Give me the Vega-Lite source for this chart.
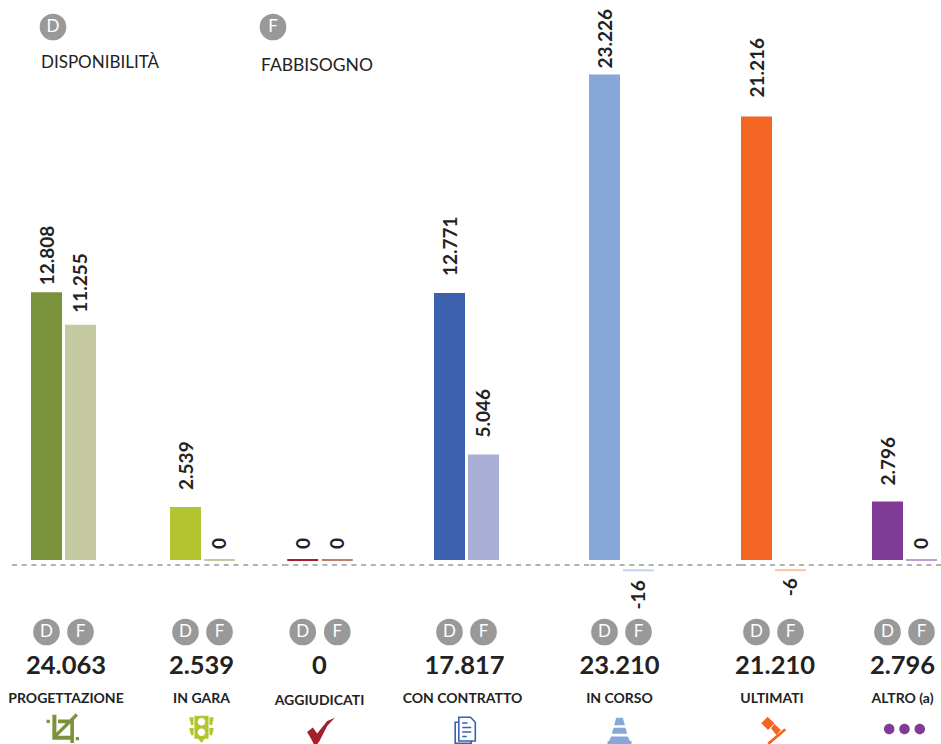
{
  "$schema": "https://vega.github.io/schema/vega-lite/v6.json",
  "background": "white",
  "padding": 0,
  "bounds": "flush",
  "spacing": 0,
  "resolve": {"scale": {"color": "independent"}},
  "config": {
    "view": {"stroke": null},
    "font": "Lato",
    "locale": {"number": {"decimal": ",", "thousands": ".", "grouping": [3], "currency": ["€", ""], "minus": "-"}}
  },
  "datasets": {
    "valori": [
      {"fase": "PROGETTAZIONE", "sigla": "D", "valore": 12808},
      {"fase": "PROGETTAZIONE", "sigla": "F", "valore": 11255},
      {"fase": "IN GARA", "sigla": "D", "valore": 2539},
      {"fase": "IN GARA", "sigla": "F", "valore": 0},
      {"fase": "AGGIUDICATI", "sigla": "D", "valore": 0},
      {"fase": "AGGIUDICATI", "sigla": "F", "valore": 0},
      {"fase": "CON CONTRATTO", "sigla": "D", "valore": 12771},
      {"fase": "CON CONTRATTO", "sigla": "F", "valore": 5046},
      {"fase": "IN CORSO", "sigla": "D", "valore": 23226},
      {"fase": "IN CORSO", "sigla": "F", "valore": -16},
      {"fase": "ULTIMATI", "sigla": "D", "valore": 21216},
      {"fase": "ULTIMATI", "sigla": "F", "valore": -6},
      {"fase": "ALTRO (a)", "sigla": "D", "valore": 2796},
      {"fase": "ALTRO (a)", "sigla": "F", "valore": 0}
    ],
    "totali": [
      {"fase": "PROGETTAZIONE", "totale": 24063},
      {"fase": "IN GARA", "totale": 2539},
      {"fase": "AGGIUDICATI", "totale": 0},
      {"fase": "CON CONTRATTO", "totale": 17817},
      {"fase": "IN CORSO", "totale": 23210},
      {"fase": "ULTIMATI", "totale": 21210},
      {"fase": "ALTRO (a)", "totale": 2796}
    ],
    "legenda": [
      {"sigla": "D", "voce": "DISPONIBILITÀ"},
      {"sigla": "F", "voce": "FABBISOGNO"}
    ]
  },
  "hconcat": [
    {
      "width": 170, "height": 744,
      "resolve": {"scale": {"x": "independent", "y": "independent"}},
      "layer": [
        {
          "data": {"name": "legenda"},
          "encoding": {
            "x": {"field": "sigla", "type": "nominal", "axis": null, "scale": {"type": "point", "domain": ["D", "F"], "range": [53, 273], "padding": 0}}
          },
          "layer": [
            {
              "mark": {"type": "point", "filled": true, "size": 710, "color": "#999999", "opacity": 1},
              "encoding": {"y": {"datum": "cerchio", "type": "nominal", "axis": null, "scale": {"type": "point", "domain": ["cerchio", "voce"], "range": [27, 61], "padding": 0}}}
            },
            {
              "mark": {"type": "text", "fontSize": 17, "color": "white", "baseline": "middle"},
              "encoding": {
                "y": {"datum": "cerchio", "type": "nominal", "axis": null, "scale": {"type": "point", "domain": ["cerchio", "voce"], "range": [27, 61], "padding": 0}},
                "text": {"field": "sigla"}
              }
            },
            {
              "transform": [{"filter": "datum.sigla === 'D'"}],
              "mark": {"type": "text", "fontSize": 17, "color": "#222222", "align": "left", "baseline": "middle", "dx": -12, "dy": 1.5},
              "encoding": {
                "y": {"datum": "voce", "type": "nominal", "axis": null, "scale": {"type": "point", "domain": ["cerchio", "voce"], "range": [27, 61], "padding": 0}},
                "text": {"field": "voce"}
              }
            },
            {
              "transform": [{"filter": "datum.sigla === 'F'"}],
              "mark": {"type": "text", "fontSize": 17.5, "color": "#222222", "align": "left", "baseline": "middle", "dx": -12, "dy": 4.5},
              "encoding": {
                "y": {"datum": "voce", "type": "nominal", "axis": null, "scale": {"type": "point", "domain": ["cerchio", "voce"], "range": [27, 61], "padding": 0}},
                "text": {"field": "voce"}
              }
            }
          ]
        },
        {
          "data": {"name": "totali"},
          "transform": [{"filter": "datum.fase === 'PROGETTAZIONE'"}],
          "mark": {"type": "rule", "color": "#666666", "strokeWidth": 1, "strokeDash": [5, 4.7], "yOffset": 5},
          "encoding": {
            "x": {"datum": 0, "type": "quantitative", "axis": null, "scale": {"domain": [0, 1], "range": [12, 170]}},
            "x2": {"datum": 1},
            "y": {"datum": 0, "type": "quantitative", "axis": null, "scale": {"domain": [-8804, 26794], "nice": false, "zero": false}}
          }
        },
        {
          "data": {"name": "valori"},
          "transform": [{"filter": "datum.fase === 'PROGETTAZIONE'"}],
          "encoding": {
            "x": {"field": "sigla", "type": "nominal", "axis": null, "scale": {"type": "band", "domain": ["D", "F"], "range": [31, 96], "paddingInner": 0.0882, "paddingOuter": 0}},
            "y": {"field": "valore", "type": "quantitative", "axis": null, "scale": {"domain": [-8804, 26794], "nice": false, "zero": false}}
          },
          "layer": [
            {
              "mark": {"type": "bar"},
              "encoding": {"color": {"field": "sigla", "legend": null, "scale": {"domain": ["D", "F"], "range": ["#7a933a", "#c5c9a1"]}}}
            },
            {
              "transform": [{"filter": "datum.sigla === 'D'"}],
              "mark": {"type": "text", "angle": 270, "align": "left", "baseline": "middle", "dx": 7, "dy": 1, "fontSize": 19, "fontWeight": "bold", "color": "#222222"},
              "encoding": {"text": {"field": "valore", "type": "quantitative", "format": ",d"}}
            },
            {
              "transform": [{"filter": "datum.sigla === 'F'"}],
              "mark": {"type": "text", "angle": 270, "align": "left", "baseline": "middle", "dx": 12, "dy": 1, "fontSize": 19, "fontWeight": "bold", "color": "#222222"},
              "encoding": {"text": {"field": "valore", "type": "quantitative", "format": ",d"}}
            }
          ]
        },
        {
          "data": {"name": "valori"},
          "transform": [{"filter": "datum.fase === 'PROGETTAZIONE'"}],
          "encoding": {
            "x": {"field": "sigla", "type": "nominal", "axis": null, "scale": {"type": "band", "domain": ["D", "F"], "range": [31, 96], "paddingInner": 0.0882, "paddingOuter": 0}},
            "y": {"datum": "sigle", "type": "nominal", "axis": null, "scale": {"type": "point", "domain": ["sigle", "totale", "fase", "icona"], "range": [632, 731], "padding": 0}}
          },
          "layer": [
            {"mark": {"type": "point", "filled": true, "size": 710, "color": "#999999", "opacity": 1}},
            {"mark": {"type": "text", "fontSize": 17, "color": "white", "baseline": "middle"}, "encoding": {"text": {"field": "sigla"}}}
          ]
        },
        {
          "data": {"name": "totali"},
          "transform": [{"filter": "datum.fase === 'PROGETTAZIONE'"}],
          "encoding": {
            "x": {"field": "fase", "type": "nominal", "axis": null, "scale": {"type": "point", "range": [31, 101]}}
          },
          "layer": [
            {
              "mark": {"type": "text", "fontSize": 25.5, "fontWeight": "bold", "color": "#222222", "baseline": "middle", "dy": 1},
              "encoding": {
                "y": {"datum": "totale", "type": "nominal", "axis": null, "scale": {"type": "point", "domain": ["sigle", "totale", "fase", "icona"], "range": [632, 731], "padding": 0}},
                "text": {"field": "totale", "type": "quantitative", "format": ",d"}
              }
            },
            {
              "mark": {"type": "text", "fontSize": 14, "fontWeight": "bold", "color": "#222222", "baseline": "middle", "dy": 1},
              "encoding": {
                "y": {"datum": "fase", "type": "nominal", "axis": null, "scale": {"type": "point", "domain": ["sigle", "totale", "fase", "icona"], "range": [632, 731], "padding": 0}},
                "text": {"field": "fase"}
              }
            },
            {
              "mark": {"type": "point", "filled": true, "opacity": 1, "color": "#7a933a", "size": 900, "yOffset": -3, "xOffset": -3,
                "shape": "M -0.71 -0.89 L -0.44 -0.89 L -0.44 0.51 L 0.73 0.51 L 0.73 0.78 L -0.71 0.78 Z M -0.33 -0.56 L 0.73 -0.56 L 0.73 1 L 0.49 1 L 0.49 -0.31 L -0.33 -0.31 Z M 0.85 -0.98 L 1 -0.82 L -0.5 0.68 L -0.65 0.52 Z M -1.1 -0.55 L -0.88 -0.55 L -0.88 -0.33 L -1.1 -0.33 Z M 0.85 0.6 L 1.07 0.6 L 1.07 0.82 L 0.85 0.82 Z"},
              "encoding": {
                "y": {"datum": "icona", "type": "nominal", "axis": null, "scale": {"type": "point", "domain": ["sigle", "totale", "fase", "icona"], "range": [632, 731], "padding": 0}}
              }
            }
          ]
        }
      ]
    },
    {
      "width": 117, "height": 744,
      "resolve": {"scale": {"x": "independent", "y": "independent"}},
      "layer": [
        {
          "data": {"name": "totali"},
          "transform": [{"filter": "datum.fase === 'IN GARA'"}],
          "mark": {"type": "rule", "color": "#666666", "strokeWidth": 1, "strokeDash": [5, 4.7], "yOffset": 5},
          "encoding": {
            "y": {"datum": 0, "type": "quantitative", "axis": null, "scale": {"domain": [-8804, 26794], "nice": false, "zero": false}}
          }
        },
        {
          "data": {"name": "valori"},
          "transform": [{"filter": "datum.fase === 'IN GARA'"}],
          "encoding": {
            "x": {"field": "sigla", "type": "nominal", "axis": null, "scale": {"type": "band", "domain": ["D", "F"], "range": [0, 65], "paddingInner": 0.0882, "paddingOuter": 0}},
            "y": {"field": "valore", "type": "quantitative", "axis": null, "scale": {"domain": [-8804, 26794], "nice": false, "zero": false}},
            "color": {"field": "sigla", "legend": null, "scale": {"domain": ["D", "F"], "range": ["#b2c530", "#c5c9a1"]}}
          },
          "layer": [
            {"transform": [{"filter": "datum.valore > 0"}], "mark": {"type": "bar"}},
            {"transform": [{"filter": "datum.valore === 0"}], "mark": {"type": "tick", "size": 31, "thickness": 2, "opacity": 1}},
            {
              "transform": [{"filter": "datum.sigla === 'D'"}],
              "mark": {"type": "text", "angle": 270, "align": "left", "baseline": "middle", "dx": 17, "dy": 1, "fontSize": 19, "fontWeight": "bold", "color": "#222222"},
              "encoding": {"color": {"value": "#222222"}, "text": {"field": "valore", "type": "quantitative", "format": ",d"}}
            },
            {
              "transform": [{"filter": "datum.sigla === 'F'"}],
              "mark": {"type": "text", "angle": 270, "align": "left", "baseline": "middle", "dx": 11, "dy": 1, "fontSize": 19, "fontWeight": "bold", "color": "#222222"},
              "encoding": {"color": {"value": "#222222"}, "text": {"field": "valore", "type": "quantitative", "format": ",d"}}
            }
          ]
        },
        {
          "data": {"name": "valori"},
          "transform": [{"filter": "datum.fase === 'IN GARA'"}],
          "encoding": {
            "x": {"field": "sigla", "type": "nominal", "axis": null, "scale": {"type": "band", "domain": ["D", "F"], "range": [0, 65], "paddingInner": 0.0882, "paddingOuter": 0}},
            "y": {"datum": "sigle", "type": "nominal", "axis": null, "scale": {"type": "point", "domain": ["sigle", "totale", "fase", "icona"], "range": [632, 731], "padding": 0}}
          },
          "layer": [
            {"mark": {"type": "point", "filled": true, "size": 710, "color": "#999999", "opacity": 1}},
            {"mark": {"type": "text", "fontSize": 17, "color": "white", "baseline": "middle"}, "encoding": {"text": {"field": "sigla"}}}
          ]
        },
        {
          "data": {"name": "totali"},
          "transform": [{"filter": "datum.fase === 'IN GARA'"}],
          "encoding": {
            "x": {"field": "fase", "type": "nominal", "axis": null, "scale": {"type": "point", "range": [0, 63]}}
          },
          "layer": [
            {
              "mark": {"type": "text", "fontSize": 25.5, "fontWeight": "bold", "color": "#222222", "baseline": "middle", "dy": 1},
              "encoding": {
                "y": {"datum": "totale", "type": "nominal", "axis": null, "scale": {"type": "point", "domain": ["sigle", "totale", "fase", "icona"], "range": [632, 731], "padding": 0}},
                "text": {"field": "totale", "type": "quantitative", "format": ",d"}
              }
            },
            {
              "mark": {"type": "text", "fontSize": 14, "fontWeight": "bold", "color": "#222222", "baseline": "middle", "dy": 1},
              "encoding": {
                "y": {"datum": "fase", "type": "nominal", "axis": null, "scale": {"type": "point", "domain": ["sigle", "totale", "fase", "icona"], "range": [632, 731], "padding": 0}},
                "text": {"field": "fase"}
              }
            },
            {
              "mark": {"type": "point", "filled": true, "opacity": 1, "color": "#b2c530", "size": 900, "yOffset": -3,
                "shape": "M -0.47 -0.82 L 0.47 -0.82 L 0.47 0.72 L 0.22 0.72 L 0 1 L -0.22 0.72 L -0.47 0.72 Z M -0.25 -0.42 A 0.25 0.25 0 1 0 0.25 -0.42 A 0.25 0.25 0 1 0 -0.25 -0.42 Z M -0.25 0.28 A 0.25 0.25 0 1 0 0.25 0.28 A 0.25 0.25 0 1 0 -0.25 0.28 Z M -0.82 -0.72 L -0.53 -0.72 L -0.53 -0.2 L -0.7 -0.2 Z M 0.82 -0.72 L 0.7 -0.2 L 0.53 -0.2 L 0.53 -0.72 Z M -0.82 0 L -0.53 0 L -0.53 0.48 L -0.7 0.48 Z M 0.82 0 L 0.7 0.48 L 0.53 0.48 L 0.53 0 Z"},
              "encoding": {
                "y": {"datum": "icona", "type": "nominal", "axis": null, "scale": {"type": "point", "domain": ["sigle", "totale", "fase", "icona"], "range": [632, 731], "padding": 0}}
              }
            }
          ]
        }
      ]
    },
    {
      "width": 147, "height": 744,
      "resolve": {"scale": {"x": "independent", "y": "independent"}},
      "layer": [
        {
          "data": {"name": "totali"},
          "transform": [{"filter": "datum.fase === 'AGGIUDICATI'"}],
          "mark": {"type": "rule", "color": "#666666", "strokeWidth": 1, "strokeDash": [5, 4.7], "yOffset": 5},
          "encoding": {
            "y": {"datum": 0, "type": "quantitative", "axis": null, "scale": {"domain": [-8804, 26794], "nice": false, "zero": false}}
          }
        },
        {
          "data": {"name": "valori"},
          "transform": [{"filter": "datum.fase === 'AGGIUDICATI'"}],
          "encoding": {
            "x": {"field": "sigla", "type": "nominal", "axis": null, "scale": {"type": "band", "domain": ["D", "F"], "range": [0, 66], "paddingInner": 0.0882, "paddingOuter": 0}},
            "y": {"field": "valore", "type": "quantitative", "axis": null, "scale": {"domain": [-8804, 26794], "nice": false, "zero": false}}
          },
          "layer": [
            {
              "mark": {"type": "tick", "size": 31, "thickness": 2, "opacity": 1},
              "encoding": {"color": {"field": "sigla", "legend": null, "scale": {"domain": ["D", "F"], "range": ["#a3212b", "#c47a6a"]}}}
            },
            {
              "mark": {"type": "text", "angle": 270, "align": "left", "baseline": "middle", "dx": 11, "dy": 1, "fontSize": 19, "fontWeight": "bold", "color": "#222222"},
              "encoding": {"text": {"field": "valore", "type": "quantitative", "format": ",d"}}
            }
          ]
        },
        {
          "data": {"name": "valori"},
          "transform": [{"filter": "datum.fase === 'AGGIUDICATI'"}],
          "encoding": {
            "x": {"field": "sigla", "type": "nominal", "axis": null, "scale": {"type": "band", "domain": ["D", "F"], "range": [0, 66], "paddingInner": 0.0882, "paddingOuter": 0}},
            "y": {"datum": "sigle", "type": "nominal", "axis": null, "scale": {"type": "point", "domain": ["sigle", "totale", "fase", "icona"], "range": [632, 731], "padding": 0}}
          },
          "layer": [
            {"mark": {"type": "point", "filled": true, "size": 710, "color": "#999999", "opacity": 1}},
            {"mark": {"type": "text", "fontSize": 17, "color": "white", "baseline": "middle"}, "encoding": {"text": {"field": "sigla"}}}
          ]
        },
        {
          "data": {"name": "totali"},
          "transform": [{"filter": "datum.fase === 'AGGIUDICATI'"}],
          "encoding": {
            "x": {"field": "fase", "type": "nominal", "axis": null, "scale": {"type": "point", "range": [0, 65]}}
          },
          "layer": [
            {
              "mark": {"type": "text", "fontSize": 25.5, "fontWeight": "bold", "color": "#222222", "baseline": "middle", "dy": 1},
              "encoding": {
                "y": {"datum": "totale", "type": "nominal", "axis": null, "scale": {"type": "point", "domain": ["sigle", "totale", "fase", "icona"], "range": [632, 731], "padding": 0}},
                "text": {"field": "totale", "type": "quantitative", "format": ",d"}
              }
            },
            {
              "mark": {"type": "text", "fontSize": 14, "fontWeight": "bold", "color": "#222222", "baseline": "middle", "dy": 2.5},
              "encoding": {
                "y": {"datum": "fase", "type": "nominal", "axis": null, "scale": {"type": "point", "domain": ["sigle", "totale", "fase", "icona"], "range": [632, 731], "padding": 0}},
                "text": {"field": "fase"}
              }
            },
            {
              "mark": {"type": "point", "filled": true, "opacity": 1, "color": "#a3212b", "size": 900, "xOffset": 2,
                "shape": "M -0.96 0.07 L -0.58 -0.24 L -0.29 0.16 L 0.38 -0.67 L 0.89 -0.89 L 0.38 -0.33 L -0.13 0.67 L -0.29 0.89 L -0.51 0.89 L -0.67 0.56 Z"},
              "encoding": {
                "y": {"datum": "icona", "type": "nominal", "axis": null, "scale": {"type": "point", "domain": ["sigle", "totale", "fase", "icona"], "range": [632, 731], "padding": 0}}
              }
            }
          ]
        }
      ]
    },
    {
      "width": 155, "height": 744,
      "resolve": {"scale": {"x": "independent", "y": "independent"}},
      "layer": [
        {
          "data": {"name": "totali"},
          "transform": [{"filter": "datum.fase === 'CON CONTRATTO'"}],
          "mark": {"type": "rule", "color": "#666666", "strokeWidth": 1, "strokeDash": [5, 4.7], "yOffset": 5},
          "encoding": {
            "y": {"datum": 0, "type": "quantitative", "axis": null, "scale": {"domain": [-8804, 26794], "nice": false, "zero": false}}
          }
        },
        {
          "data": {"name": "valori"},
          "transform": [{"filter": "datum.fase === 'CON CONTRATTO'"}],
          "encoding": {
            "x": {"field": "sigla", "type": "nominal", "axis": null, "scale": {"type": "band", "domain": ["D", "F"], "range": [0, 65], "paddingInner": 0.0882, "paddingOuter": 0}},
            "y": {"field": "valore", "type": "quantitative", "axis": null, "scale": {"domain": [-8804, 26794], "nice": false, "zero": false}}
          },
          "layer": [
            {
              "mark": {"type": "bar"},
              "encoding": {"color": {"field": "sigla", "legend": null, "scale": {"domain": ["D", "F"], "range": ["#3a60ae", "#a9aed6"]}}}
            },
            {
              "mark": {"type": "text", "angle": 270, "align": "left", "baseline": "middle", "dx": 17, "dy": 1, "fontSize": 19, "fontWeight": "bold", "color": "#222222"},
              "encoding": {"text": {"field": "valore", "type": "quantitative", "format": ",d"}}
            }
          ]
        },
        {
          "data": {"name": "valori"},
          "transform": [{"filter": "datum.fase === 'CON CONTRATTO'"}],
          "encoding": {
            "x": {"field": "sigla", "type": "nominal", "axis": null, "scale": {"type": "band", "domain": ["D", "F"], "range": [0, 65], "paddingInner": 0.0882, "paddingOuter": 0}},
            "y": {"datum": "sigle", "type": "nominal", "axis": null, "scale": {"type": "point", "domain": ["sigle", "totale", "fase", "icona"], "range": [632, 731], "padding": 0}}
          },
          "layer": [
            {"mark": {"type": "point", "filled": true, "size": 710, "color": "#999999", "opacity": 1}},
            {"mark": {"type": "text", "fontSize": 17, "color": "white", "baseline": "middle"}, "encoding": {"text": {"field": "sigla"}}}
          ]
        },
        {
          "data": {"name": "totali"},
          "transform": [{"filter": "datum.fase === 'CON CONTRATTO'"}],
          "encoding": {
            "x": {"field": "fase", "type": "nominal", "axis": null, "scale": {"type": "point", "range": [0, 61]}}
          },
          "layer": [
            {
              "mark": {"type": "text", "fontSize": 25.5, "fontWeight": "bold", "color": "#222222", "baseline": "middle", "dy": 1},
              "encoding": {
                "y": {"datum": "totale", "type": "nominal", "axis": null, "scale": {"type": "point", "domain": ["sigle", "totale", "fase", "icona"], "range": [632, 731], "padding": 0}},
                "text": {"field": "totale", "type": "quantitative", "format": ",d"}
              }
            },
            {
              "mark": {"type": "text", "fontSize": 14, "fontWeight": "bold", "color": "#222222", "baseline": "middle", "dx": -2, "dy": 1},
              "encoding": {
                "y": {"datum": "fase", "type": "nominal", "axis": null, "scale": {"type": "point", "domain": ["sigle", "totale", "fase", "icona"], "range": [632, 731], "padding": 0}},
                "text": {"field": "fase"}
              }
            },
            {
              "mark": {"type": "point", "filled": false, "opacity": 1, "color": "#3a60ae", "strokeWidth": 1.6, "size": 900, "yOffset": -2,
                "shape": "M -0.38 -0.78 L 0.4 -0.78 L 0.72 -0.45 L 0.72 0.8 L -0.38 0.8 Z M -0.38 -0.45 L -0.62 -0.45 L -0.62 0.95 L 0.45 0.95 L 0.45 0.8 M -0.15 -0.4 L 0.2 -0.4 M -0.15 -0.1 L 0.45 -0.1 M -0.15 0.2 L 0.45 0.2 M -0.15 0.5 L 0.15 0.5"},
              "encoding": {
                "y": {"datum": "icona", "type": "nominal", "axis": null, "scale": {"type": "point", "domain": ["sigle", "totale", "fase", "icona"], "range": [632, 731], "padding": 0}}
              }
            }
          ]
        }
      ]
    },
    {
      "width": 152, "height": 744,
      "resolve": {"scale": {"x": "independent", "y": "independent"}},
      "layer": [
        {
          "data": {"name": "totali"},
          "transform": [{"filter": "datum.fase === 'IN CORSO'"}],
          "mark": {"type": "rule", "color": "#666666", "strokeWidth": 1, "strokeDash": [5, 4.7], "yOffset": 5},
          "encoding": {
            "y": {"datum": 0, "type": "quantitative", "axis": null, "scale": {"domain": [-8804, 26794], "nice": false, "zero": false}}
          }
        },
        {
          "data": {"name": "valori"},
          "transform": [{"filter": "datum.fase === 'IN CORSO'"}],
          "encoding": {
            "x": {"field": "sigla", "type": "nominal", "axis": null, "scale": {"type": "band", "domain": ["D", "F"], "range": [0, 65], "paddingInner": 0.0882, "paddingOuter": 0}},
            "y": {"field": "valore", "type": "quantitative", "axis": null, "scale": {"domain": [-8804, 26794], "nice": false, "zero": false}},
            "color": {"field": "sigla", "legend": null, "scale": {"domain": ["D", "F"], "range": ["#88a7d9", "#c5d5ee"]}}
          },
          "layer": [
            {"transform": [{"filter": "datum.valore >= 0"}], "mark": {"type": "bar"}},
            {"transform": [{"filter": "datum.valore < 0"}], "mark": {"type": "tick", "size": 31, "thickness": 2, "opacity": 1, "yOffset": 10}},
            {
              "transform": [{"filter": "datum.valore >= 0"}],
              "mark": {"type": "text", "angle": 270, "align": "left", "baseline": "middle", "dx": 6, "dy": 1, "fontSize": 19, "fontWeight": "bold", "color": "#222222"},
              "encoding": {"color": {"value": "#222222"}, "text": {"field": "valore", "type": "quantitative", "format": ",d"}}
            },
            {
              "transform": [{"filter": "datum.valore < 0"}],
              "mark": {"type": "text", "angle": 270, "align": "right", "baseline": "middle", "dx": -20, "dy": 1, "fontSize": 19, "fontWeight": "bold", "color": "#222222"},
              "encoding": {"color": {"value": "#222222"}, "text": {"field": "valore", "type": "quantitative", "format": ",d"}}
            }
          ]
        },
        {
          "data": {"name": "valori"},
          "transform": [{"filter": "datum.fase === 'IN CORSO'"}],
          "encoding": {
            "x": {"field": "sigla", "type": "nominal", "axis": null, "scale": {"type": "band", "domain": ["D", "F"], "range": [0, 65], "paddingInner": 0.0882, "paddingOuter": 0}},
            "y": {"datum": "sigle", "type": "nominal", "axis": null, "scale": {"type": "point", "domain": ["sigle", "totale", "fase", "icona"], "range": [632, 731], "padding": 0}}
          },
          "layer": [
            {"mark": {"type": "point", "filled": true, "size": 710, "color": "#999999", "opacity": 1}},
            {"mark": {"type": "text", "fontSize": 17, "color": "white", "baseline": "middle"}, "encoding": {"text": {"field": "sigla"}}}
          ]
        },
        {
          "data": {"name": "totali"},
          "transform": [{"filter": "datum.fase === 'IN CORSO'"}],
          "encoding": {
            "x": {"field": "fase", "type": "nominal", "axis": null, "scale": {"type": "point", "range": [0, 61]}}
          },
          "layer": [
            {
              "mark": {"type": "text", "fontSize": 25.5, "fontWeight": "bold", "color": "#222222", "baseline": "middle", "dy": 1},
              "encoding": {
                "y": {"datum": "totale", "type": "nominal", "axis": null, "scale": {"type": "point", "domain": ["sigle", "totale", "fase", "icona"], "range": [632, 731], "padding": 0}},
                "text": {"field": "totale", "type": "quantitative", "format": ",d"}
              }
            },
            {
              "mark": {"type": "text", "fontSize": 14, "fontWeight": "bold", "color": "#222222", "baseline": "middle", "dy": 1},
              "encoding": {
                "y": {"datum": "fase", "type": "nominal", "axis": null, "scale": {"type": "point", "domain": ["sigle", "totale", "fase", "icona"], "range": [632, 731], "padding": 0}},
                "text": {"field": "fase"}
              }
            },
            {
              "mark": {"type": "point", "filled": true, "opacity": 1, "color": "#88a7d9", "size": 900,
                "shape": "M -0.22 -0.89 L 0.22 -0.89 L 0.36 -0.38 L -0.36 -0.38 Z M -0.4 -0.22 L 0.4 -0.22 L 0.51 0.18 L -0.51 0.18 Z M -0.56 0.36 L 0.56 0.36 L 0.69 0.67 L -0.69 0.67 Z M -0.8 0.67 L 0.8 0.67 L 0.8 0.87 L -0.8 0.87 Z"},
              "encoding": {
                "y": {"datum": "icona", "type": "nominal", "axis": null, "scale": {"type": "point", "domain": ["sigle", "totale", "fase", "icona"], "range": [632, 731], "padding": 0}}
              }
            }
          ]
        }
      ]
    },
    {
      "width": 131, "height": 744,
      "resolve": {"scale": {"x": "independent", "y": "independent"}},
      "layer": [
        {
          "data": {"name": "totali"},
          "transform": [{"filter": "datum.fase === 'ULTIMATI'"}],
          "mark": {"type": "rule", "color": "#666666", "strokeWidth": 1, "strokeDash": [5, 4.7], "yOffset": 5},
          "encoding": {
            "y": {"datum": 0, "type": "quantitative", "axis": null, "scale": {"domain": [-8804, 26794], "nice": false, "zero": false}}
          }
        },
        {
          "data": {"name": "valori"},
          "transform": [{"filter": "datum.fase === 'ULTIMATI'"}],
          "encoding": {
            "x": {"field": "sigla", "type": "nominal", "axis": null, "scale": {"type": "band", "domain": ["D", "F"], "range": [0, 65], "paddingInner": 0.0882, "paddingOuter": 0}},
            "y": {"field": "valore", "type": "quantitative", "axis": null, "scale": {"domain": [-8804, 26794], "nice": false, "zero": false}},
            "color": {"field": "sigla", "legend": null, "scale": {"domain": ["D", "F"], "range": ["#f26522", "#fbc4a4"]}}
          },
          "layer": [
            {"transform": [{"filter": "datum.valore >= 0"}], "mark": {"type": "bar"}},
            {"transform": [{"filter": "datum.valore < 0"}], "mark": {"type": "tick", "size": 31, "thickness": 2, "opacity": 1, "yOffset": 10}},
            {
              "transform": [{"filter": "datum.valore >= 0"}],
              "mark": {"type": "text", "angle": 270, "align": "left", "baseline": "middle", "dx": 19, "dy": 1, "fontSize": 19, "fontWeight": "bold", "color": "#222222"},
              "encoding": {"color": {"value": "#222222"}, "text": {"field": "valore", "type": "quantitative", "format": ",d"}}
            },
            {
              "transform": [{"filter": "datum.valore < 0"}],
              "mark": {"type": "text", "angle": 270, "align": "right", "baseline": "middle", "dx": -18, "dy": 1, "fontSize": 19, "fontWeight": "bold", "color": "#222222"},
              "encoding": {"color": {"value": "#222222"}, "text": {"field": "valore", "type": "quantitative", "format": ",d"}}
            }
          ]
        },
        {
          "data": {"name": "valori"},
          "transform": [{"filter": "datum.fase === 'ULTIMATI'"}],
          "encoding": {
            "x": {"field": "sigla", "type": "nominal", "axis": null, "scale": {"type": "band", "domain": ["D", "F"], "range": [0, 65], "paddingInner": 0.0882, "paddingOuter": 0}},
            "y": {"datum": "sigle", "type": "nominal", "axis": null, "scale": {"type": "point", "domain": ["sigle", "totale", "fase", "icona"], "range": [632, 731], "padding": 0}}
          },
          "layer": [
            {"mark": {"type": "point", "filled": true, "size": 710, "color": "#999999", "opacity": 1}},
            {"mark": {"type": "text", "fontSize": 17, "color": "white", "baseline": "middle"}, "encoding": {"text": {"field": "sigla"}}}
          ]
        },
        {
          "data": {"name": "totali"},
          "transform": [{"filter": "datum.fase === 'ULTIMATI'"}],
          "encoding": {
            "x": {"field": "fase", "type": "nominal", "axis": null, "scale": {"type": "point", "range": [0, 68]}}
          },
          "layer": [
            {
              "mark": {"type": "text", "fontSize": 25.5, "fontWeight": "bold", "color": "#222222", "baseline": "middle", "dy": 1},
              "encoding": {
                "y": {"datum": "totale", "type": "nominal", "axis": null, "scale": {"type": "point", "domain": ["sigle", "totale", "fase", "icona"], "range": [632, 731], "padding": 0}},
                "text": {"field": "totale", "type": "quantitative", "format": ",d"}
              }
            },
            {
              "mark": {"type": "text", "fontSize": 14, "fontWeight": "bold", "color": "#222222", "baseline": "middle", "dx": -3, "dy": 1},
              "encoding": {
                "y": {"datum": "fase", "type": "nominal", "axis": null, "scale": {"type": "point", "domain": ["sigle", "totale", "fase", "icona"], "range": [632, 731], "padding": 0}},
                "text": {"field": "fase"}
              }
            },
            {
              "mark": {"type": "point", "filled": true, "opacity": 1, "color": "#f26522", "size": 900, "xOffset": -2, "yOffset": -1,
                "shape": "M -0.78 -0.45 L -0.36 -0.89 L 0.09 -0.45 L -0.33 0 Z M -0.13 -0.11 L 0.09 -0.4 L 0.53 0 L 0.22 0.33 Z M 0.75 -0.1 L 0.9 0 L -0.25 0.98 L -0.38 0.85 Z"},
              "encoding": {
                "y": {"datum": "icona", "type": "nominal", "axis": null, "scale": {"type": "point", "domain": ["sigle", "totale", "fase", "icona"], "range": [632, 731], "padding": 0}}
              }
            }
          ]
        }
      ]
    },
    {
      "width": 69, "height": 744,
      "resolve": {"scale": {"x": "independent", "y": "independent"}},
      "layer": [
        {
          "data": {"name": "totali"},
          "transform": [{"filter": "datum.fase === 'ALTRO (a)'"}],
          "mark": {"type": "rule", "color": "#666666", "strokeWidth": 1, "strokeDash": [5, 4.7], "yOffset": 5},
          "encoding": {
            "y": {"datum": 0, "type": "quantitative", "axis": null, "scale": {"domain": [-8804, 26794], "nice": false, "zero": false}}
          }
        },
        {
          "data": {"name": "valori"},
          "transform": [{"filter": "datum.fase === 'ALTRO (a)'"}],
          "encoding": {
            "x": {"field": "sigla", "type": "nominal", "axis": null, "scale": {"type": "band", "domain": ["D", "F"], "range": [0, 65], "paddingInner": 0.0882, "paddingOuter": 0}},
            "y": {"field": "valore", "type": "quantitative", "axis": null, "scale": {"domain": [-8804, 26794], "nice": false, "zero": false}},
            "color": {"field": "sigla", "legend": null, "scale": {"domain": ["D", "F"], "range": ["#7f3b96", "#bfa0cf"]}}
          },
          "layer": [
            {"transform": [{"filter": "datum.valore > 0"}], "mark": {"type": "bar"}},
            {"transform": [{"filter": "datum.valore === 0"}], "mark": {"type": "tick", "size": 31, "thickness": 2, "opacity": 1}},
            {
              "transform": [{"filter": "datum.sigla === 'D'"}],
              "mark": {"type": "text", "angle": 270, "align": "left", "baseline": "middle", "dx": 16, "dy": 1, "fontSize": 19, "fontWeight": "bold", "color": "#222222"},
              "encoding": {"color": {"value": "#222222"}, "text": {"field": "valore", "type": "quantitative", "format": ",d"}}
            },
            {
              "transform": [{"filter": "datum.sigla === 'F'"}],
              "mark": {"type": "text", "angle": 270, "align": "left", "baseline": "middle", "dx": 11, "dy": 1, "fontSize": 19, "fontWeight": "bold", "color": "#222222"},
              "encoding": {"color": {"value": "#222222"}, "text": {"field": "valore", "type": "quantitative", "format": ",d"}}
            }
          ]
        },
        {
          "data": {"name": "valori"},
          "transform": [{"filter": "datum.fase === 'ALTRO (a)'"}],
          "encoding": {
            "x": {"field": "sigla", "type": "nominal", "axis": null, "scale": {"type": "band", "domain": ["D", "F"], "range": [0, 65], "paddingInner": 0.0882, "paddingOuter": 0}},
            "y": {"datum": "sigle", "type": "nominal", "axis": null, "scale": {"type": "point", "domain": ["sigle", "totale", "fase", "icona"], "range": [632, 731], "padding": 0}}
          },
          "layer": [
            {"mark": {"type": "point", "filled": true, "size": 710, "color": "#999999", "opacity": 1}},
            {"mark": {"type": "text", "fontSize": 17, "color": "white", "baseline": "middle"}, "encoding": {"text": {"field": "sigla"}}}
          ]
        },
        {
          "data": {"name": "totali"},
          "transform": [{"filter": "datum.fase === 'ALTRO (a)'"}],
          "encoding": {
            "x": {"field": "fase", "type": "nominal", "axis": null, "scale": {"type": "point", "range": [0, 61]}}
          },
          "layer": [
            {
              "mark": {"type": "text", "fontSize": 25.5, "fontWeight": "bold", "color": "#222222", "baseline": "middle", "dy": 1},
              "encoding": {
                "y": {"datum": "totale", "type": "nominal", "axis": null, "scale": {"type": "point", "domain": ["sigle", "totale", "fase", "icona"], "range": [632, 731], "padding": 0}},
                "text": {"field": "totale", "type": "quantitative", "format": ",d"}
              }
            },
            {
              "mark": {"type": "text", "fontSize": 14, "fontWeight": "bold", "color": "#222222", "baseline": "middle", "dy": 1},
              "encoding": {
                "y": {"datum": "fase", "type": "nominal", "axis": null, "scale": {"type": "point", "domain": ["sigle", "totale", "fase", "icona"], "range": [632, 731], "padding": 0}},
                "text": {"field": "fase"}
              }
            },
            {
              "mark": {"type": "point", "filled": true, "opacity": 1, "color": "#7f3b96", "size": 900, "xOffset": 2, "yOffset": -2,
                "shape": "M -1.37 0 A 0.35 0.35 0 1 1 -0.67 0 A 0.35 0.35 0 1 1 -1.37 0 Z M -0.35 0 A 0.35 0.35 0 1 1 0.35 0 A 0.35 0.35 0 1 1 -0.35 0 Z M 0.67 0 A 0.35 0.35 0 1 1 1.37 0 A 0.35 0.35 0 1 1 0.67 0 Z"},
              "encoding": {
                "y": {"datum": "icona", "type": "nominal", "axis": null, "scale": {"type": "point", "domain": ["sigle", "totale", "fase", "icona"], "range": [632, 731], "padding": 0}}
              }
            }
          ]
        }
      ]
    }
  ]
}
